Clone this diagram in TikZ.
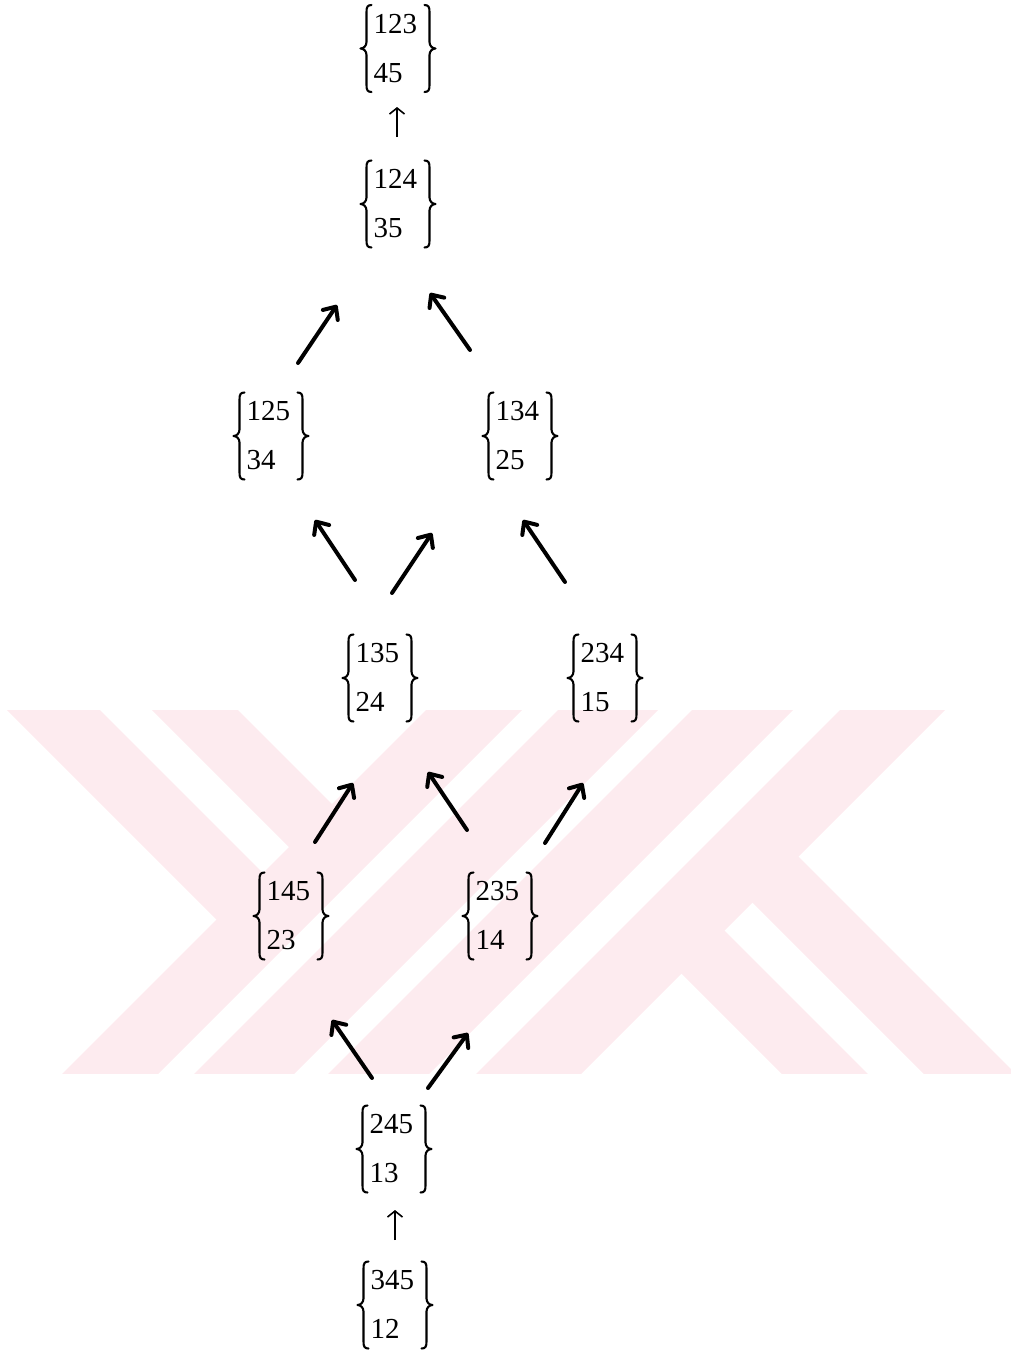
\documentclass[tikz,border=0pt]{standalone}
\usepackage{fontspec}
\setmainfont{Liberation Serif}
\usetikzlibrary{calc,arrows.meta}
\definecolor{wmpink}{RGB}{253,235,239}
\newcommand{\twolines}[2]{\vbox to 87pt{\offinterlineskip\vskip10pt
 \hbox to 75pt{\hskip13pt\smash{#1}\vrule height18pt depth0pt width0pt\hss}\vskip31pt
 \hbox to 75pt{\hskip13pt\smash{#2}\vrule height18pt depth0pt width0pt\hss}\vss}}
\tikzset{
  pair/.style={inner sep=0pt,outer sep=0pt,font=\fontsize{29}{30}\selectfont},
  brace/.style={line width=2.1pt,line cap=round,line join=round},
  bigarrow/.style={line width=4pt,line cap=round,-{Straight Barb[length=10pt,width=18pt,line cap=round,line join=round]}},
  smallarrow/.style={line width=1.6pt,-{Straight Barb[length=6pt,width=15pt]}},
  wm/.style={fill=wmpink,draw=none}
}
\newcommand{\bnode}[5]{%
 \node[pair] (#1) at (#2,#3) {\twolines{#4}{#5}};
 \draw[brace,shift={(#1.north west)}] (11,0) .. controls (7,0) and (6,2) .. (6,7) -- (6,37) .. controls (6,41) and (3,43.5) .. (0,43.5) .. controls (3,43.5) and (6,46) .. (6,50) -- (6,80) .. controls (6,85) and (7,87) .. (11,87);
 \draw[brace,shift={(#1.north east)}] (-11,0) .. controls (-7,0) and (-6,2) .. (-6,7) -- (-6,37) .. controls (-6,41) and (-3,43.5) .. (0,43.5) .. controls (-3,43.5) and (-6,46) .. (-6,50) -- (-6,80) .. controls (-6,85) and (-7,87) .. (-11,87);
}
\begin{document}
\begin{tikzpicture}[x=1pt,y=-1pt]
\useasboundingbox (0,0) rectangle (1011,1352);
% watermark
\begin{scope}
\clip (0,710) rectangle (1011,1073);
\fill[wm] (436,700) -- (532,700) -- (152,1080) -- (56,1080) -- cycle;
\fill[wm] (568,700) -- (668,700) -- (288,1080) -- (188,1080) -- cycle;
\fill[wm] (702,700) -- (803,700) -- (423,1080) -- (322,1080) -- cycle;
\fill[wm] (850,700) -- (955,700) -- (575,1080) -- (470,1080) -- cycle;
\fill[wm] (-3,700) -- (90,700) -- (285,895) -- (238.5,941.5) -- cycle;
\fill[wm] (142,700) -- (228,700) -- (354,826) -- (311,869) -- cycle;
\fill[wm] (664,956) -- (707,913) -- (874,1080) -- (788,1080) -- cycle;
\fill[wm] (735,885) -- (781,839) -- (1022,1080) -- (930,1080) -- cycle;
\end{scope}
% nodes
\bnode{n123}{398}{48.5}{123}{45}
\bnode{n124}{398}{204}{124}{35}
\bnode{n125}{271}{436}{125}{34}
\bnode{n134}{520}{436}{134}{25}
\bnode{n135}{380}{678}{135}{24}
\bnode{n234}{605}{678}{234}{15}
\bnode{n145}{291}{916}{145}{23}
\bnode{n235}{500}{916}{235}{14}
\bnode{n245}{394}{1149}{245}{13}
\bnode{n345}{395}{1305}{345}{12}
% connectors
\draw[smallarrow] ($(n124)+(-1,-67)$) -- ($(n123)+(-1,58.5)$);
\draw[bigarrow] ($(n125)+(27,-73)$) -- ($(n124)+(-61,101)$);
\draw[bigarrow] ($(n134)+(-50,-86)$) -- ($(n124)+(32,89)$);
\draw[bigarrow] ($(n135)+(-25,-98)$) -- ($(n125)+(44,84)$);
\draw[bigarrow] ($(n135)+(12,-85)$) -- ($(n134)+(-88,97)$);
\draw[bigarrow] ($(n234)+(-40,-96)$) -- ($(n134)+(3,84)$);
\draw[bigarrow] ($(n145)+(24,-74)$) -- ($(n135)+(-27,105)$);
\draw[bigarrow] ($(n235)+(-33,-86)$) -- ($(n135)+(48,94)$);
\draw[bigarrow] ($(n235)+(45,-73)$) -- ($(n234)+(-22,105)$);
\draw[bigarrow] ($(n245)+(-22,-71)$) -- ($(n145)+(41,104)$);
\draw[bigarrow] ($(n245)+(34,-61)$) -- ($(n235)+(-32,117)$);
\draw[smallarrow] ($(n345)+(0,-65)$) -- ($(n245)+(1,61)$);
\end{tikzpicture}
\end{document}
